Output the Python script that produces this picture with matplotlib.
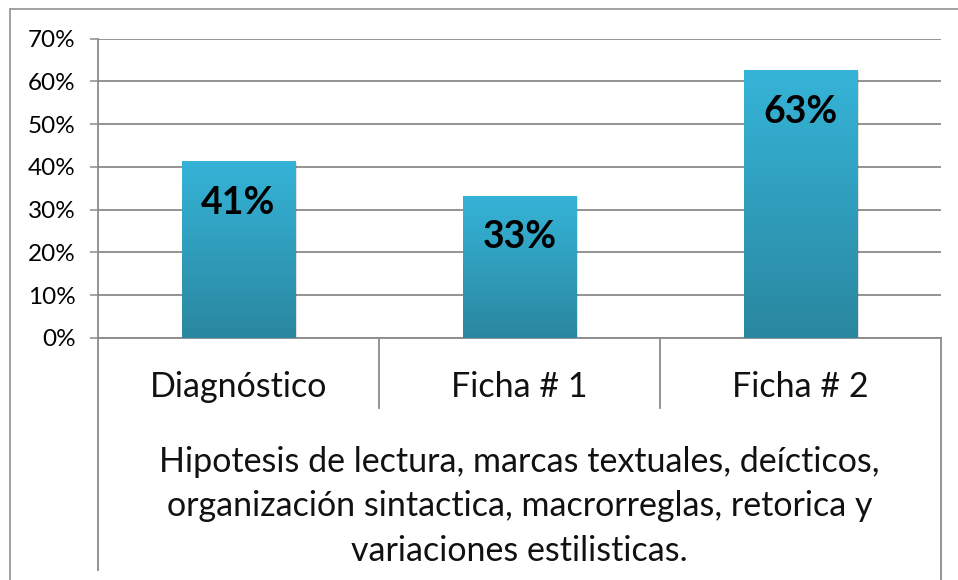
import numpy as np
import matplotlib
matplotlib.use("Agg")
import matplotlib.pyplot as plt
from matplotlib.lines import Line2D
from matplotlib.ticker import PercentFormatter
from matplotlib.colors import LinearSegmentedColormap

plt.rcParams['font.family'] = ['Lato', 'DejaVu Sans']

categories = ["Diagnóstico", "Ficha # 1", "Ficha # 2"]
values = [0.414, 0.333, 0.626]
value_labels = ["41%", "33%", "63%"]
group_label = ("Hipotesis de lectura, marcas textuales, deícticos,\n"
               "organización sintactica, macrorreglas, retorica y\n"
               "variaciones estilisticas.")
yticks = [0, 0.1, 0.2, 0.3, 0.4, 0.5, 0.6, 0.7]

W, H = 958, 580
fig = plt.figure(figsize=(W / 100, H / 100), dpi=100)
ax = fig.add_axes([98 / W, (H - 338) / H, (941 - 98) / W, 299.5 / H])

grid_col = "#8a8a8a"
x = np.arange(len(categories))
bars = ax.bar(x, values, width=0.405, color="#31a6c8", zorder=3)

# gradient fill + soft shadow
cmap = LinearSegmentedColormap.from_list("bar", ["#2a87a0", "#35b4d8"])
grad = np.linspace(0, 1, 256).reshape(-1, 1)
for b in bars:
    x0, w, h = b.get_x(), b.get_width(), b.get_height()
    ax.bar(x0 + w / 2 + 0.006, h, width=w, bottom=-0.004, color="#000000",
           alpha=0.12, zorder=2)
    im = ax.imshow(grad, cmap=cmap, origin="lower", aspect="auto",
                   extent=[x0, x0 + w, 0, h], zorder=4)
    im.set_clip_path(b)

for xi, v, lab in zip(x, values, value_labels):
    ax.annotate(lab, (xi, v), xytext=(0, -30), textcoords="offset points",
                ha="center", va="center", fontsize=27, fontweight="bold",
                color="black", zorder=5)

ax.set_xlim(-0.5, len(categories) - 0.5)
ax.set_ylim(0, 0.7)
ax.set_yticks(yticks)
ax.yaxis.set_major_formatter(PercentFormatter(1.0, decimals=0))
ax.tick_params(axis="y", length=6, width=1.1, color=grid_col, labelsize=17.5,
               pad=10)
ax.tick_params(axis="x", length=0, labelbottom=False)
ax.yaxis.grid(True, color=grid_col, lw=1.3, zorder=1)
ax.set_axisbelow(True)
for s in ["top", "right"]:
    ax.spines[s].set_visible(False)
ax.spines["left"].set_color(grid_col)
ax.spines["left"].set_linewidth(1.3)
ax.spines["bottom"].set_color(grid_col)
ax.spines["bottom"].set_linewidth(1.3)

# category labels and separators
tr = ax.get_xaxis_transform()
for xi, c in zip(x, categories):
    ax.text(xi, -0.165, c, transform=tr, ha="center", va="center",
            fontsize=24.5, color="#111111")
for xs in x[:-1] + 0.5:
    ax.plot([xs, xs], [0, -0.234], transform=tr, color=grid_col, lw=1.3,
            clip_on=False)
ax.plot([-0.5, -0.5], [0, -0.775], transform=tr, color=grid_col, lw=1.3,
        clip_on=False)
ax.plot([len(categories) - 0.5] * 2, [0, -0.85], transform=tr, color=grid_col,
        lw=1.3, clip_on=False)
ax.text((len(categories) - 1) / 2, -0.562, group_label, transform=tr,
        ha="center", va="center", fontsize=24.5, linespacing=1.47,
        color="#111111")

# outer chart border
fig.add_artist(Line2D([10 / W, 10 / W], [0, 1 - 9 / H], color="#9a9a9a",
                      lw=1.3, transform=fig.transFigure))
fig.add_artist(Line2D([10 / W, 1], [1 - 9 / H, 1 - 9 / H], color="#9a9a9a",
                      lw=1.3, transform=fig.transFigure))

fig.savefig("out.png", dpi=100)
